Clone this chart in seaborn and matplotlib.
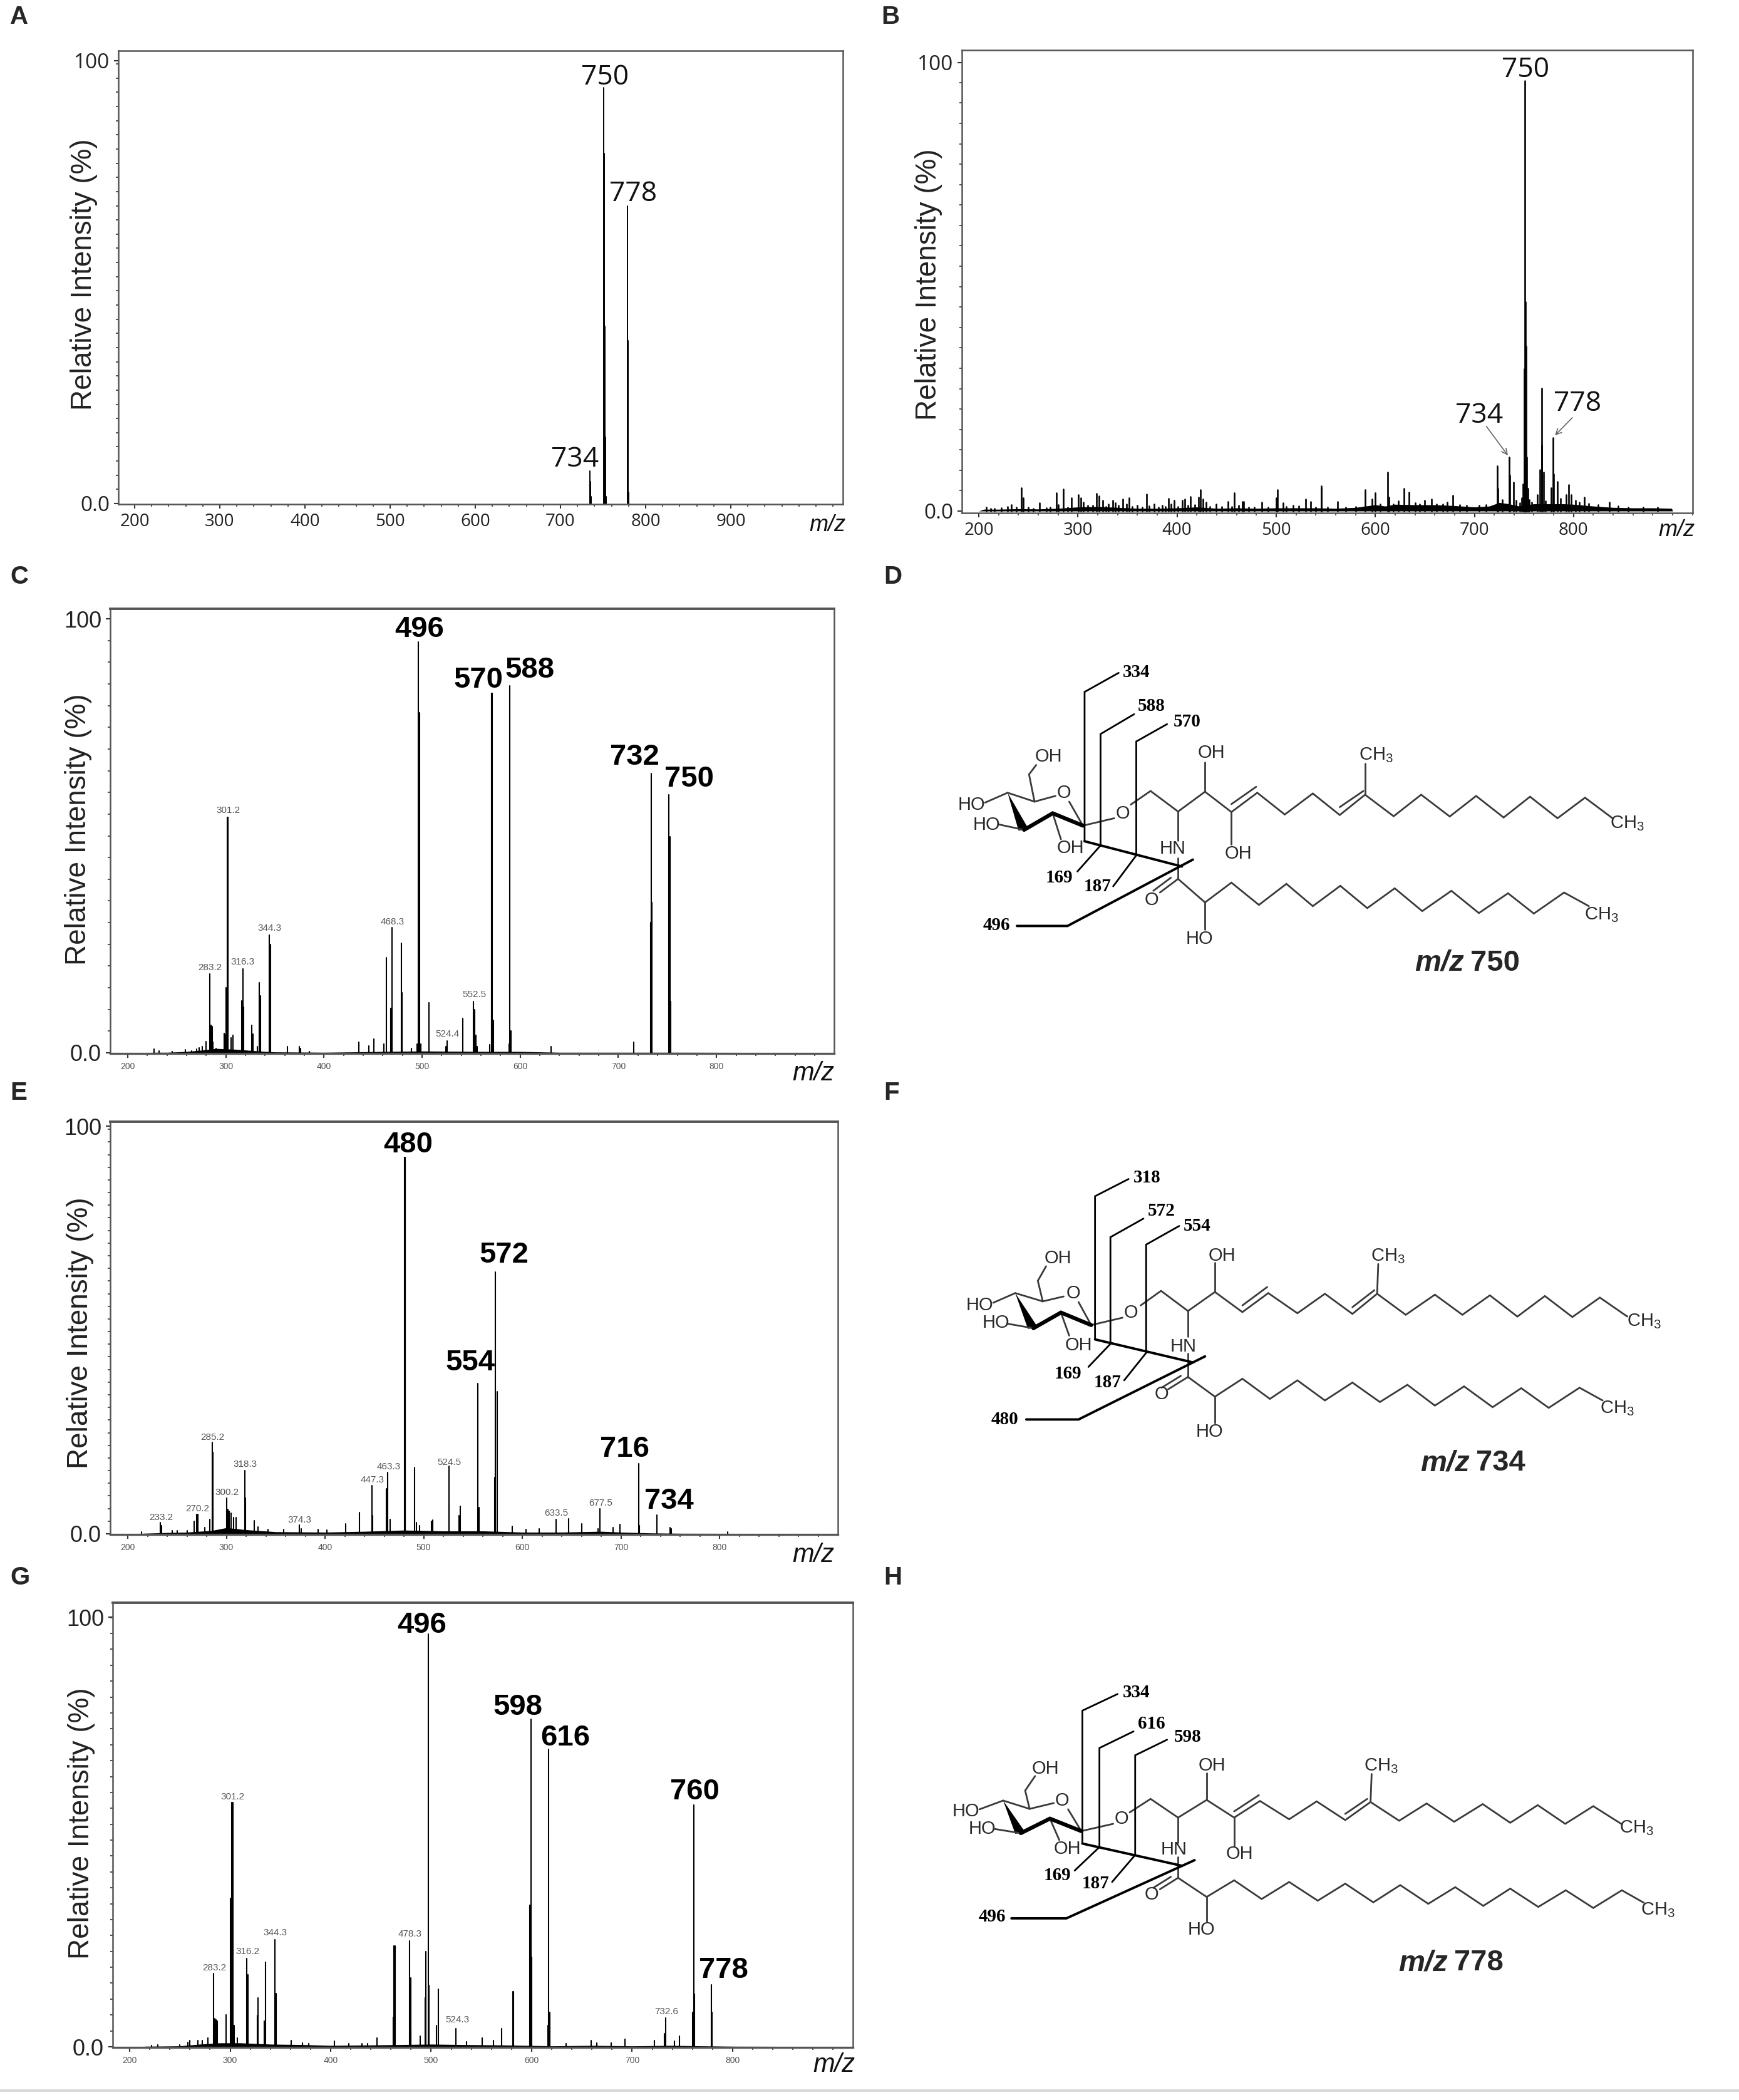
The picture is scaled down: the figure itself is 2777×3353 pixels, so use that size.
import numpy as np
import pandas as pd
import seaborn as sns
import matplotlib.pyplot as plt

W, H = 2777, 3353

# peak lists: m/z and relative intensity (%)
a_mz = [734.5, 735.2, 736, 751, 751.5, 752, 752.8, 753.5, 779, 779.6, 780.4]
a_rel = [7.3, 5.0, 1.5, 93.8, 79, 40, 15, 1.5, 67.2, 36.7, 2.5]

b_mz = [207.7, 223, 229, 233, 243, 245, 250, 261, 268, 278.3, 280, 285.5, 293.5, 300.7, 303, 305.5, 310,
        318.8, 321, 325, 331, 335, 337.4, 345, 349, 351.7, 360, 369.6, 377, 385, 391.3, 393.7, 397, 405,
        407.7, 413.8, 421.5, 423.4, 426, 429, 439.6, 451.7, 457.7, 466, 467.5, 485.5, 500, 501.2, 506.8,
        517, 529.7, 535, 545.4, 545.8, 562, 589.6, 597, 600, 612.6, 614, 623.4, 629, 634, 650, 656.5,
        672.5, 678, 723, 723.7, 735, 735.7, 739.4, 746, 748, 749, 750, 751, 751.5, 752, 753, 754, 755.5,
        763.5, 766, 767.6, 768.1, 769.6, 777.3, 779.2, 780, 783.6, 792.5, 795.2, 797.3, 802, 810.6, 835.9,
        212, 216, 238, 255, 272, 290, 315, 328, 341, 355, 365, 372, 381, 388, 401, 411, 418, 433, 445, 455,
        462, 472, 478, 492, 510, 523, 540, 552, 570, 580, 605, 618, 640, 645, 662, 668, 685, 692, 705, 712,
        728, 742, 758, 772, 787, 806, 815, 825, 845, 855, 870, 885]
b_rel = [0.8, 0.7, 1.0, 1.4, 5.1, 2.9, 0.9, 1.8, 0.7, 4.0, 1.4, 4.9, 2.9, 3.6, 2.9, 1.9, 1.3,
         3.9, 3.3, 2.4, 1.6, 2.4, 1.8, 2.6, 1.5, 2.9, 1.2, 3.8, 1.5, 1.2, 2.8, 1.6, 2.4, 2.4,
         2.7, 3.2, 3.1, 4.8, 2.7, 1.9, 1.6, 2.1, 4.1, 2.1, 2.1, 2.0, 2.9, 4.7, 1.8,
         1.2, 2.6, 2.1, 5.6, 5.0, 2.1, 4.7, 2.7, 4.0, 8.6, 3.1, 2.3, 5.0, 4.2, 2.4, 2.7,
         2.0, 3.5, 10.1, 5.0, 12.0, 8.0, 6.4, 1.8, 3.0, 6.0, 31.7, 96.0, 46.6, 36.8, 12.0, 5.0, 2.5,
         3.6, 9.2, 27.4, 14.7, 8.7, 5.2, 16.4, 8.2, 6.6, 3.7, 5.9, 3.6, 2.4, 3.1, 1.9,
         0.6, 0.5, 0.9, 0.6, 0.8, 0.9, 1.2, 1.0, 1.2, 1.0, 0.9, 1.1, 0.8, 1.0, 1.0, 1.2, 1.4, 1.0, 1.0, 1.0,
         1.2, 0.9, 0.9, 0.9, 1.0, 1.1, 0.9, 0.8, 0.9, 1.0, 1.5, 1.6, 1.8, 1.6, 1.5, 1.5, 1.4, 1.3, 1.2, 1.4,
         2.5, 2.4, 2.0, 2.2, 2.8, 2.0, 1.7, 1.4, 1.1, 0.9, 0.9, 0.8]
# low level grass under the spectra, read as an outline
b_base_mz = [200, 205, 220, 240, 260, 280, 300, 320, 340, 360, 380, 400, 420, 440, 460, 480, 500, 520, 540, 560,
             580, 590, 600, 610, 620, 640, 660, 680, 700, 715, 725, 735, 745, 760, 775, 790, 800, 820, 840, 860,
             880, 899, 900]
b_base_rel = [0, 0.4, 0.4, 0.5, 0.45, 0.6, 0.9, 1.0, 0.8, 0.6, 0.6, 0.7, 0.9, 0.6, 0.7, 0.6, 0.7, 0.7, 0.7, 0.6,
              0.8, 1.1, 1.4, 1.1, 1.5, 1.4, 1.4, 1.2, 0.9, 1.1, 1.9, 1.6, 1.1, 1.6, 1.6, 1.6, 1.5, 1.1, 0.8, 0.7,
              0.7, 0.6, 0]

c_mz = [226.8, 232, 245, 259, 265, 270, 273, 276, 280, 283.8, 285, 286, 287, 290, 298, 299, 300, 301.6, 302, 302.4,
        305, 307, 316, 317.5, 318, 326.5, 327.5, 332, 334, 335, 344.2, 345.5, 363, 375, 376, 385, 435.3, 446, 451,
        461, 463.8, 467.8, 469.5, 478.6, 479.5, 489, 495, 496.3, 497.5, 498.5, 507, 524, 525.4, 541.3, 552.1, 553.5,
        555, 556, 569, 570.5, 570.9, 571.3, 573, 589.2, 588.6, 590.5, 631.3, 715.7, 733.3, 732.8, 734, 751.6, 752.5, 753.5]
c_rel = [0.9, 0.5, 0.3, 0.7, 0.5, 0.9, 1.2, 1.5, 2.6, 18.2, 6.3, 6.0, 2.5, 1.0, 4.5, 4.2, 15.0, 54.2, 54.2, 54.2,
         3.5, 4.0, 12.0, 19.4, 10.5, 6.3, 4.4, 1.5, 16.2, 13.2, 27.2, 25.0, 1.5, 1.5, 1.0, 0.3, 2.5, 1.6, 3.2,
         2.0, 22.0, 10.3, 28.9, 25.2, 13.9, 1.0, 2.0, 94.6, 78.3, 2.0, 11.5, 1.4, 2.8, 8.0, 11.9, 9.9,
         4.0, 1.5, 1.9, 82.9, 82.9, 82.9, 7.5, 84.6, 2.0, 5.0, 1.5, 2.5, 64.4, 30.0, 34.7, 59.5, 49.8, 11.9]
c_base_mz = [225, 240, 260, 275, 290, 310, 340, 350, 400, 460, 500, 560, 600, 640, 700, 760, 880]
c_base_rel = [0.1, 0.1, 0.3, 0.6, 1.0, 0.8, 0.3, 0.2, 0.1, 0.3, 0.4, 0.3, 0.3, 0.1, 0.1, 0.1, 0.05]

e_mz = [214, 233, 234, 245, 250, 260, 267, 270, 271, 278, 283, 285.5, 286.3, 300.5, 301.5, 303, 305, 307, 310, 318.5,
        319.3, 328, 332, 342, 358, 374, 376, 393, 402, 421, 435, 447.5, 448.5, 462.5, 463.8, 466, 480.5, 481, 481.5,
        490.5, 493, 496, 508, 509, 525.5, 526, 536, 537, 555, 556, 572, 573, 574.5, 590, 604, 617, 634.5, 647, 660,
        677, 679, 692, 699, 718, 719, 736.5, 750, 751, 808]
e_rel = [0.5, 2.7, 2.0, 0.8, 0.7, 0.8, 3.0, 4.8, 4.8, 1.5, 3.6, 22.4, 19.9, 8.8, 6.0, 5.6, 5.0, 4.0, 4.0, 15.5,
         8.8, 3.2, 1.7, 1.0, 1.0, 2.1, 1.2, 1.0, 0.9, 2.4, 5.2, 11.9, 4.4, 11.0, 15.1, 3.6, 92.3, 92.3, 92.3,
         16.3, 2.7, 2.0, 3.0, 3.4, 16.6, 7.3, 4.4, 6.7, 36.9, 6.5, 13.8, 64.2, 34.9, 1.8, 1.0, 1.2, 3.6, 3.7, 2.4,
         1.2, 6.1, 1.5, 2.3, 17.2, 2.0, 4.6, 1.5, 1.2, 0.5]
e_base_mz = [215, 240, 260, 285, 300, 320, 350, 400, 440, 480, 520, 560, 600, 640, 680, 700, 730, 760, 880]
e_base_rel = [0.1, 0.3, 0.4, 0.8, 1.5, 1.0, 0.5, 0.4, 0.6, 0.9, 0.7, 0.7, 0.4, 0.4, 0.6, 0.4, 0.2, 0.1, 0.05]

g_mz = [222, 228, 250, 258, 260, 268, 272, 278, 283.5, 285, 286, 287.5, 296, 300, 301.7, 302.5, 303, 304, 307, 316.8,
        318, 327, 328, 334, 335.3, 344.5, 345.5, 361, 372, 378, 404, 418, 431, 437, 446, 462, 463, 464, 478.5, 479.5,
        480, 489, 494, 495, 497, 498, 505, 507, 524.3, 535, 551, 562, 570, 581, 582, 598, 599.6, 600, 616, 616.8, 618,
        634, 659, 665, 679, 693, 722, 732, 733.6, 742, 747, 760, 761.5, 762, 778.7, 779.5]
g_rel = [0.3, 0.4, 0.4, 1.0, 1.4, 1.5, 1.5, 2.0, 17.0, 6.5, 6.3, 6.0, 7.4, 34.6, 56.8, 56.8, 5.0, 4.9, 2.0, 20.6,
         16.8, 7.3, 11.4, 6.0, 19.7, 25.0, 12.4, 1.4, 0.9, 0.8, 1.3, 0.7, 0.8, 0.7, 2.0, 6.9, 23.5, 23.5, 24.7, 16.0,
         4.0, 2.5, 11.3, 22.2, 96.0, 14.3, 5.0, 13.4, 4.3, 1.2, 2.1, 1.5, 4.3, 12.8, 12.8, 32.9, 76.2, 20.9, 5.0, 69.3, 8.0,
         0.7, 1.5, 0.9, 0.9, 1.8, 1.5, 3.0, 6.7, 1.3, 2.5, 8.0, 56.2, 12.2, 14.4, 8.0]
g_base_mz = [215, 250, 270, 290, 310, 340, 370, 400, 440, 470, 500, 530, 570, 620, 660, 700, 740, 770, 800, 880]
g_base_rel = [0.1, 0.2, 0.6, 0.9, 0.9, 0.6, 0.5, 0.3, 0.4, 0.5, 0.6, 0.5, 0.4, 0.2, 0.3, 0.2, 0.3, 0.2, 0.1, 0.05]

y_tick_labels = ["0.0", "100"]
x_ticks_ab = [200, 300, 400, 500, 600, 700, 800, 900]

# text labels over the peaks
a_big = ["750", "778", "734"]
b_big = ["750", "734", "778"]
c_big = ["496", "570", "588", "732", "750"]
c_small = ["301.2", "283.2", "316.3", "344.3", "468.3", "552.5", "524.4"]
e_big = ["480", "572", "554", "716", "734"]
e_small = ["285.2", "318.3", "300.2", "270.2", "233.2", "374.3", "447.3", "463.3", "524.5", "633.5", "677.5"]
g_big = ["496", "598", "616", "760", "778"]
g_small = ["301.2", "283.2", "316.2", "344.3", "478.3", "524.3", "732.6"]

sns.set_style("ticks")
plt.rcParams['font.family'] = ['Liberation Sans', 'DejaVu Sans']
plt.rcParams['mathtext.default'] = 'regular'

fig = plt.figure(figsize=(W / 100, H / 100), dpi=100, facecolor="white")


def draw_spectrum(mz, rel, box, x200, px100, y0, y100, xticks, letter, letter_xy, ylab_xy, mzlab_xy,
                  minor_y, lw=1.5, tick_size=20, tick_color="#222222", ylab_font="Open Sans", yfs=24, top_lw=1.8):
    left, right, top, bottom = box
    ax = fig.add_axes([left / W, 1 - bottom / H, (right - left) / W, (bottom - top) / H])
    n = len(mz)
    df = pd.DataFrame({
        "peak": np.repeat(np.arange(n), 2),
        "mz": np.repeat(mz, 2),
        "rel": np.column_stack([np.zeros(n), rel]).ravel(),
    })
    sns.lineplot(data=df, x="mz", y="rel", units="peak", estimator=None, sort=False, color="black",
                 lw=lw, legend=False, ax=ax)
    ax.set_xlim(200 + (left - x200) / px100 * 100, 200 + (right - x200) / px100 * 100)
    py = (y0 - y100) / 100
    ax.set_ylim(-(bottom - y0) / py, 100 + (y100 - top) / py)
    ax.set_yticks([0, 100], y_tick_labels, fontsize=yfs, family=ylab_font, color="#222222")
    ax.set_yticks(np.arange(0, 100, minor_y), minor=True)
    ax.set_xticks(xticks, [str(t) for t in xticks], fontsize=tick_size, family=ylab_font, color=tick_color)
    ax.set_xticks(np.arange(200, ax.get_xlim()[1], 20), minor=True)
    ax.tick_params(axis="both", which="major", length=5, width=1.5, color="#333333", pad=5)
    ax.tick_params(axis="both", which="minor", length=3, width=1.2, color="#333333")
    for side, sp in ax.spines.items():
        sp.set_color("#555555")
        sp.set_linewidth(1.8)
    ax.spines["top"].set_linewidth(top_lw)
    ax.set_xlabel("m/z", style="italic", fontsize=26, color="#111111")
    ax.xaxis.set_label_coords((mzlab_xy[0] - left) / (right - left), (bottom - mzlab_xy[1]) / (bottom - top))
    ax.xaxis.label.set_va("center")
    ax.set_ylabel("Relative Intensity (%)", fontsize=33, color="#222222")
    ax.yaxis.set_label_coords((ylab_xy[0] - left) / (right - left), (bottom - ylab_xy[1]) / (bottom - top))
    ax.yaxis.label.set_va("center")
    fig.text(letter_xy[0] / W, 1 - letter_xy[1] / H, letter, fontsize=29, fontweight="bold", va="baseline")
    return ax


def big_labels(ax, labels, places, **kw):
    for lab, (x, y) in zip(labels, places):
        ax.text(x, y - 0.6, lab, ha="center", va="center", **kw)


def small_labels(ax, labels, places):
    for lab, (x, y) in zip(labels, places):
        ax.text(x, y, lab, ha="center", va="center", fontsize=11, color="#555555")


# panel A
ax_a = draw_spectrum(a_mz, a_rel, (189, 1346, 81, 805), 215, 136, 804, 96.5, x_ticks_ab + [], "A", (16, 38), (134, 438),
                     (1322, 839), 3.2, lw=1.4)
big_labels(ax_a, a_big, [(752, 96.8), (785, 70.4), (717, 10.5)], fontsize=32, family="Open Sans", color="#111111")

# panel B
ax_b = draw_spectrum(b_mz, b_rel, (1536, 2703, 80, 819), 1563, 158.3, 816, 100, x_ticks_ab[:-1], "B", (1407, 38),
                     (1483, 454), (2678, 847), 4.55, lw=1.9)
ax_b.fill_between(b_base_mz, 0, b_base_rel, color="black", lw=0)
big_labels(ax_b, b_big, [(751.3, 98.9), (705, 21.9), (804, 24.5)], fontsize=32, family="Open Sans", color="#111111")
arrow_kw = dict(arrowstyle="->", color="#666666", lw=1.2, mutation_scale=16)
ax_b.annotate("", xy=(734.8, 12.1), xytext=(711, 19.2), arrowprops=arrow_kw)
ax_b.annotate("", xy=(780, 16.6), xytext=(800, 21.1), arrowprops=arrow_kw)

# panel C
x_ticks_small = [200, 300, 400, 500, 600, 700, 800]
small_kw = dict(tick_size=10, tick_color="#555555", ylab_font="Liberation Sans", yfs=26, top_lw=2.8)
ax_c = draw_spectrum(c_mz, c_rel, (176, 1332, 972, 1682), 204, 156.7, 1681, 988, x_ticks_small, "C", (16, 932),
                     (125, 1324), (1299, 1714), 5, lw=1.5, **small_kw)
ax_c.fill_between(c_base_mz, 0, c_base_rel, color="black", lw=0)
bold_kw = dict(fontsize=34, fontweight="bold", color="black")
big_labels(ax_c, c_big, [(497.4, 98.2), (557.3, 86.5), (609.7, 88.8), (716.8, 68.7), (772, 63.7)], **bold_kw)
small_labels(ax_c, c_small, [(302.6, 55.8), (283.8, 19.6), (316.8, 20.9), (344.7, 28.7), (469.5, 30.2), (553.3, 13.4),
                             (526, 4.4)])

# panel E
ax_e = draw_spectrum(e_mz, e_rel, (176, 1338, 1791, 2450), 204, 157.5, 2449, 1798, x_ticks_small, "E", (16, 1756),
                     (128, 2128), (1299, 2483), 3.1, lw=1.5, **small_kw)
ax_e.fill_between(e_base_mz, 0, e_base_rel, color="black", lw=0)
big_labels(ax_e, e_big, [(484.4, 96), (581.3, 69), (547.3, 42.6), (703.7, 21.3), (749, 8.6)], **bold_kw)
small_labels(ax_e, e_small, [(286, 23.7), (319, 17), (300.8, 10.2), (270.8, 6.2), (234, 4), (374.5, 3.4), (448.2, 13.2),
                             (464.6, 16.4), (525.8, 17.5), (634.6, 5), (679.3, 7.5)])

# panel G
ax_g = draw_spectrum(g_mz, g_rel, (180, 1362, 2559, 3269), 207, 160.5, 3268, 2582, x_ticks_small, "G", (16, 2530),
                     (130, 2911), (1332, 3297), 3.7, lw=1.5, **small_kw)
ax_g.fill_between(g_base_mz, 0, g_base_rel, color="black", lw=0)
big_labels(ax_g, g_big, [(491, 98.7), (586.2, 79.6), (633.5, 72.5), (762, 60), (791, 18.4)], **bold_kw)
small_labels(ax_g, g_small, [(302.4, 58.2), (284, 18.4), (317.4, 22.2), (344.7, 26.5), (478.8, 26.2), (526, 6.2),
                             (734.2, 8.2)])
for ax in (ax_c, ax_e, ax_g):
    ax.xaxis.label.set_fontsize(30)
    ax.spines["bottom"].set_linewidth(2.4)

# structures are drawn on a transparent sheet in pixel coordinates
ov = fig.add_axes([0, 0, 1, 1])
ov.set_xlim(0, W)
ov.set_ylim(H, 0)
ov.axis("off")
ov.patch.set_alpha(0)
ov.plot([0, W], [3338, 3338], color="#d9d9d9", lw=3)

d_struct = dict(
    ox=1400, oy=1000, sy=620 / 1568,
    bonds=[[(290, 560), (277, 598), (287, 708), (325, 685)], [(350, 708), (375, 805), (432, 775)],
           [(238, 672), (287, 708)], [(197, 712), (238, 672)], [(222, 800), (268, 822)], [(320, 755), (335, 860)],
           [(462, 720), (498, 665), (548, 748), (597, 668), (645, 750), (692, 672), (742, 760), (793, 675), (842, 762),
            (888, 680), (940, 767), (990, 680), (1042, 768), (1090, 685), (1140, 772), (1188, 688), (1238, 775),
            (1288, 692), (1338, 775)],
           [(645, 718), (690, 648)], [(842, 730), (885, 665)], [(597, 668), (597, 550)], [(645, 750), (645, 880)],
           [(888, 680), (888, 555)], [(548, 748), (548, 865)], [(548, 935), (548, 1020)], [(548, 1020), (515, 1075)],
           [(535, 1015), (503, 1068)],
           [(548, 1020), (597, 1115), (645, 1035), (695, 1125), (745, 1040), (793, 1130), (843, 1048), (892, 1138),
            (942, 1058), (992, 1150), (1045, 1068), (1095, 1158), (1148, 1078), (1195, 1160), (1250, 1075), (1295, 1130)],
           [(597, 1115), (597, 1225)]],
    thick=[(375, 805), (320, 755), (268, 822)], wedge=[(238, 672), (258, 825), (276, 818)],
    frags=[[(440, 188), (378, 265), (378, 868)], [(468, 355), (407, 435), (407, 885)], [(528, 395), (472, 465), (472, 925)],
           [(407, 885), (365, 990)], [(472, 925), (430, 1050)]],
    cuts=[[(378, 868), (555, 970)], [(255, 1210), (347, 1210), (575, 942)]],
    atoms=[("OH", 313, 527), ("O", 340, 672), ("HO", 172, 722), ("HO", 200, 802), ("OH", 352, 895), ("O", 447, 755),
           ("OH", 608, 512), ("OH", 657, 918), ("HN", 538, 898), ("O", 500, 1105), ("HO", 587, 1262)],
    ch3=[(908, 520), (1365, 795), (1318, 1165)],
    frag_text=[("334", 472, 185), ("588", 500, 322), ("570", 565, 385), ("169", 332, 1015), ("187", 402, 1050), ("496", 218, 1208)],
    caption=("750", 1068, 1360),
)
f_struct = dict(
    ox=1400, oy=1820, sy=560 / 1568,
    bonds=[[(308, 565), (293, 630), (302, 722), (340, 700)], [(367, 725), (390, 828), (447, 795)],
           [(252, 685), (302, 722)], [(212, 728), (252, 685)], [(238, 822), (285, 842)], [(335, 772), (350, 875)],
           [(480, 740), (517, 675), (566, 765), (615, 680), (665, 770), (712, 685), (765, 775), (815, 688), (865, 778),
            (910, 688), (962, 782), (1015, 692), (1065, 782), (1115, 695), (1165, 790), (1215, 698), (1265, 792),
            (1315, 705), (1365, 790)],
           [(665, 740), (710, 658)], [(865, 748), (905, 672)], [(615, 680), (615, 550)], [(910, 688), (912, 555)],
           [(566, 765), (566, 880)], [(566, 955), (566, 1060)], [(566, 1060), (530, 1115)], [(553, 1055), (518, 1108)],
           [(566, 1060), (615, 1148), (665, 1068), (715, 1158), (765, 1075), (815, 1165), (865, 1085), (915, 1172),
            (965, 1095), (1015, 1188), (1068, 1102), (1120, 1195), (1172, 1110), (1222, 1198), (1278, 1108), (1320, 1165)],
           [(615, 1148), (615, 1265)]],
    thick=[(390, 828), (335, 772), (285, 842)], wedge=[(252, 685), (275, 845), (293, 838)],
    frags=[[(458, 175), (397, 252), (397, 892)], [(485, 352), (425, 435), (425, 912)], [(550, 385), (490, 468), (490, 952)],
           [(425, 912), (385, 1015)], [(490, 952), (450, 1075)]],
    cuts=[[(397, 892), (575, 995)], [(272, 1250), (367, 1250), (597, 968)]],
    atoms=[("OH", 330, 530), ("O", 357, 685), ("HO", 187, 738), ("HO", 217, 818), ("OH", 367, 918), ("O", 462, 772),
           ("OH", 628, 518), ("HN", 558, 925), ("O", 518, 1138), ("HO", 605, 1305)],
    ch3=[(930, 520), (1395, 810), (1347, 1200)],
    frag_text=[("318", 492, 170), ("572", 518, 318), ("554", 583, 385), ("169", 348, 1045), ("187", 420, 1085), ("480", 233, 1250)],
    caption=("734", 1078, 1445),
)
h_struct = dict(
    ox=1400, oy=2660, sy=520 / 1568,
    bonds=[[(288, 530), (270, 600), (278, 688), (322, 660)], [(348, 690), (372, 795), (430, 760)],
           [(230, 648), (278, 688)], [(187, 690), (230, 648)], [(215, 785), (262, 805)], [(315, 735), (332, 838)],
           [(460, 705), (498, 640), (548, 730), (600, 645), (650, 730), (697, 650), (750, 738), (800, 652), (852, 742),
            (898, 655), (950, 745), (1000, 662), (1050, 750), (1102, 665), (1152, 755), (1202, 670), (1252, 760),
            (1303, 675), (1355, 762)],
           [(650, 700), (695, 622)], [(852, 712), (892, 640)], [(600, 645), (600, 515)], [(898, 655), (900, 520)],
           [(548, 730), (548, 850)], [(650, 730), (650, 868)], [(548, 920), (548, 1020)], [(548, 1020), (515, 1075)],
           [(535, 1015), (503, 1068)],
           [(548, 1020), (600, 1112), (650, 1032), (700, 1122), (750, 1040), (802, 1130), (852, 1048), (903, 1138),
            (952, 1055), (1003, 1145), (1052, 1065), (1103, 1155), (1152, 1072), (1203, 1160), (1253, 1080), (1303, 1165),
            (1355, 1080), (1395, 1140)],
           [(600, 1112), (600, 1230)]],
    thick=[(372, 795), (315, 735), (262, 805)], wedge=[(230, 648), (252, 808), (270, 800)],
    frags=[[(438, 135), (374, 215), (374, 855)], [(467, 315), (405, 395), (405, 872)], [(528, 355), (470, 430), (470, 910)],
           [(405, 872), (360, 985)], [(470, 910), (428, 1040)]],
    cuts=[[(374, 855), (555, 962)], [(245, 1215), (345, 1215), (578, 935)]],
    atoms=[("OH", 307, 495), ("O", 337, 648), ("HO", 162, 700), ("HO", 192, 783), ("OH", 347, 880), ("O", 445, 735),
           ("OH", 610, 478), ("OH", 660, 905), ("HN", 540, 885), ("O", 500, 1100), ("HO", 590, 1270)],
    ch3=[(917, 480), (1382, 780), (1420, 1175)],
    frag_text=[("334", 472, 128), ("616", 500, 278), ("598", 565, 343), ("169", 328, 1008), ("187", 398, 1048), ("496", 210, 1208)],
    caption=("778", 1038, 1430),
)


def draw_structure(st, letter, letter_y):
    sx = 1377 / 1568
    tx = lambda x: st["ox"] + x * sx
    ty = lambda y: st["oy"] + y * st["sy"]

    def poly(pts, **kw):
        ov.plot([tx(p[0]) for p in pts], [ty(p[1]) for p in pts], solid_joinstyle="miter", **kw)

    for b in st["bonds"]:
        poly(b, color="#3a3a3a", lw=2.0)
    poly(st["thick"], color="black", lw=4.5)
    ov.fill([tx(p[0]) for p in st["wedge"]], [ty(p[1]) for p in st["wedge"]], color="black", lw=0)
    for f in st["frags"]:
        poly(f, color="black", lw=2.0)
    for c in st["cuts"]:
        poly(c, color="black", lw=2.8)
    for txt, x, y in st["atoms"]:
        ov.text(tx(x), ty(y), txt, ha="center", va="center", fontsize=21, color="#2a2a2a")
    for x, y in st["ch3"]:
        ov.text(tx(x), ty(y), "CH$_3$", ha="center", va="center", fontsize=21, color="#2a2a2a")
    for txt, x, y in st["frag_text"]:
        ov.text(tx(x), ty(y), txt, ha="center", va="center", fontsize=21, family="Liberation Serif",
                fontweight="bold", color="black")
    num, cx, cy = st["caption"]
    ov.text(tx(cx), ty(cy), "m/z", ha="right", va="center", fontsize=34, fontweight="bold", style="italic")
    ov.text(tx(cx) + 10, ty(cy), num, ha="left", va="center", fontsize=34, fontweight="bold")
    fig.text(1411 / W, 1 - letter_y / H, letter, fontsize=29, fontweight="bold", va="baseline")


draw_structure(d_struct, "D", 932)
draw_structure(f_struct, "F", 1756)
draw_structure(h_struct, "H", 2530)

fig.savefig("out.png", dpi=100, facecolor="white")
